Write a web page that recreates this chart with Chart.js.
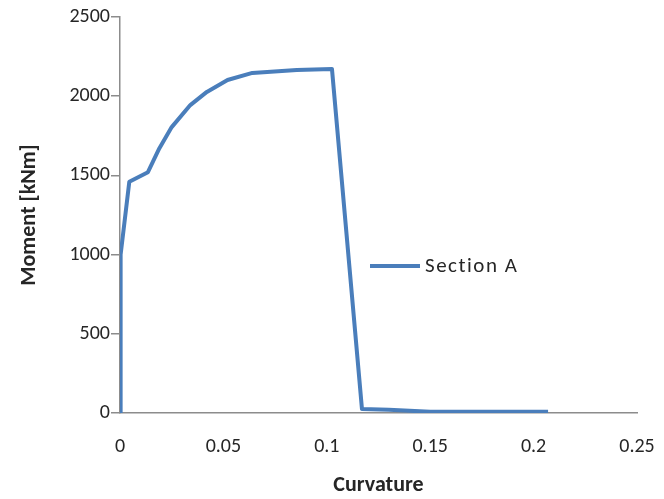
<!DOCTYPE html>
<html>
<head>
<meta charset="utf-8">
<script src="https://cdn.jsdelivr.net/npm/chart.js@4"></script>
<style>
  html, body { margin: 0; padding: 0; background: #fff; }
  #wrap { width: 664px; height: 499px; }
</style>
</head>
<body>
<div id="wrap"><canvas id="chart" width="664" height="499"></canvas></div>
<script>
// values
const curvature = [0, 0.0003, 0.0045, 0.0135, 0.019, 0.025, 0.034, 0.042, 0.052, 0.064, 0.0855, 0.1025, 0.117, 0.13, 0.15, 0.207];
const moment = [0, 1000, 1460, 1520, 1670, 1805, 1944, 2027, 2102, 2147, 2165, 2172, 25, 20, 8, 8];
const seriesName = "Section A";
const xTicks = [0, 0.05, 0.1, 0.15, 0.2, 0.25];
const yTicks = [0, 500, 1000, 1500, 2000, 2500];

const lineColor = "#4a7ebb";
const axisColor = "#8c8c8c";
const textColor = "#262626";
const fontFamily = "Carlito, Lato, 'Open Sans', sans-serif";

// draw the legend inside the plot like the reference (line sample + label)
const insideLegend = {
  id: "insideLegend",
  afterDraw(chart) {
    const ctx = chart.ctx;
    const area = chart.chartArea;
    const x0 = area.left + 250;
    const y0 = area.top + 249;
    ctx.save();
    ctx.strokeStyle = lineColor;
    ctx.lineWidth = 4;
    ctx.beginPath();
    ctx.moveTo(x0, y0);
    ctx.lineTo(x0 + 50, y0);
    ctx.stroke();
    ctx.fillStyle = textColor;
    ctx.font = "21px " + fontFamily;
    ctx.letterSpacing = "1.5px";
    ctx.textBaseline = "middle";
    ctx.fillText(seriesName, x0 + 55, y0 + 1);
    ctx.restore();
  },
};

const points = curvature.map((c, i) => ({ x: c, y: moment[i] }));

new Chart(document.getElementById("chart"), {
  type: "scatter",
  data: {
    datasets: [
      {
        label: seriesName,
        data: points,
        showLine: true,
        borderColor: lineColor,
        backgroundColor: lineColor,
        borderWidth: 4,
        pointRadius: 0,
        tension: 0,
        borderJoinStyle: "round",
      },
    ],
  },
  options: {
    responsive: false,
    animation: false,
    layout: { padding: { top: 17, right: 27, left: 16, bottom: 0 } },
    plugins: {
      legend: { display: false },
      tooltip: { enabled: false },
    },
    scales: {
      x: {
        type: "linear",
        min: 0,
        max: 0.25,
        afterBuildTicks: (scale) => {
          scale.ticks = xTicks.map((v) => ({ value: v }));
        },
        afterFit: (scale) => {
          scale.height = 86;
          scale.paddingLeft = 0;
          scale.paddingRight = 0;
        },
        grid: { display: false, drawTicks: false },
        border: { color: axisColor, width: 1.5 },
        ticks: {
          padding: 22,
          color: textColor,
          font: { family: fontFamily, size: 20 },
          maxRotation: 0,
          callback: (v) => String(Number(v.toFixed(2))),
        },
        title: {
          display: true,
          text: "Curvature",
          color: textColor,
          font: { family: fontFamily, size: 22, weight: "bold" },
          padding: { top: 10, bottom: 0 },
        },
      },
      y: {
        type: "linear",
        min: 0,
        max: 2500,
        afterBuildTicks: (scale) => {
          scale.ticks = yTicks.map((v) => ({ value: v }));
        },
        afterFit: (scale) => {
          scale.width = 104;
        },
        grid: {
          drawOnChartArea: false,
          drawTicks: true,
          tickLength: 9,
          color: axisColor,
          lineWidth: 1.5,
        },
        border: { color: axisColor, width: 1.5 },
        ticks: {
          padding: 1,
          color: textColor,
          font: { family: fontFamily, size: 20 },
          callback: (v) => String(v),
        },
        title: {
          display: true,
          text: "Moment [kNm]",
          color: textColor,
          font: { family: fontFamily, size: 22, weight: "bold" },
          padding: { top: 0, bottom: 10 },
        },
      },
    },
  },
  plugins: [insideLegend],
});
</script>
</body>
</html>
